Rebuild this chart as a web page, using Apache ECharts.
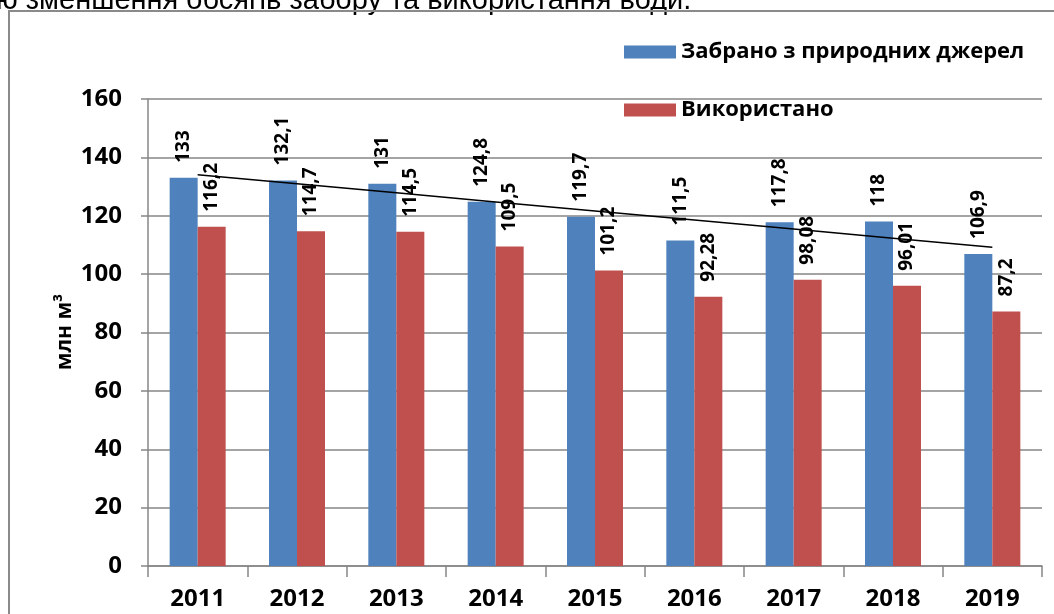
<!DOCTYPE html>
<html>
<head>
<meta charset="utf-8">
<script src="https://cdn.jsdelivr.net/npm/echarts@6/dist/echarts.min.js"></script>
<style>
  html, body { margin: 0; padding: 0; background: #fff; }
  #chart { width: 1054px; height: 614px; }
</style>
</head>
<body>
<div id="chart"></div>
<script>
// дані
const years = ["2011", "2012", "2013", "2014", "2015", "2016", "2017", "2018", "2019"];
const zabrano = [133, 132.1, 131, 124.8, 119.7, 111.5, 117.8, 118, 106.9];
const vykorystano = [116.2, 114.7, 114.5, 109.5, 101.2, 92.28, 98.08, 96.01, 87.2];
const yTicks = [0, 20, 40, 60, 80, 100, 120, 140, 160];

// лінійний тренд по забраній воді
function trend(vals) {
  const n = vals.length;
  const mx = (n + 1) / 2;
  const my = vals.reduce((a, b) => a + b, 0) / n;
  let sxy = 0, sxx = 0;
  vals.forEach((v, i) => {
    sxy += (i + 1 - mx) * (v - my);
    sxx += (i + 1 - mx) * (i + 1 - mx);
  });
  const k = sxy / sxx;
  return vals.map((v, i) => +(my + k * (i + 1 - mx)).toFixed(3));
}

const font = "'Open Sans', 'DejaVu Sans', sans-serif";
const fmt = p => String(p.value).replace(".", ",");

const labelStyle = {
  show: true,
  position: "top",
  distance: 15,
  rotate: 90,
  align: "left",
  verticalAlign: "middle",
  fontFamily: font,
  fontWeight: "bold",
  fontSize: 19,
  color: "#000",
  formatter: fmt
};

const chart = echarts.init(document.getElementById("chart"));
chart.setOption({
  animation: false,
  grid: { left: 148, right: 12, top: 99, bottom: 48 },
  graphic: [
    {
      type: "text",
      left: -4,
      top: -14,
      style: {
        text: "ю зменшення обсягів забору та використання води.",
        font: "29px 'Liberation Sans', Arial, sans-serif",
        fill: "#000"
      }
    },
    {
      type: "rect",
      shape: { x: 9, y: 11, width: 1100, height: 700 },
      style: { fill: "none", stroke: "#8a8a8a", lineWidth: 2 },
      silent: true
    },
    {
      // назва осі Y
      type: "text",
      x: 65,
      y: 332,
      rotation: Math.PI / 2,
      style: {
        text: "млн м³",
        font: "bold 21px 'Open Sans', sans-serif",
        fill: "#000",
        align: "center",
        verticalAlign: "middle"
      }
    }
  ],
  legend: [
    {
      data: ["Забрано з природних джерел"],
      left: 619, top: 36,
      itemWidth: 52, itemHeight: 13,
      icon: "rect",
      textStyle: { fontFamily: font, fontWeight: "bold", fontSize: 22, color: "#000" }
    },
    {
      data: ["Використано"],
      left: 619, top: 94,
      itemWidth: 52, itemHeight: 13,
      icon: "rect",
      textStyle: { fontFamily: font, fontWeight: "bold", fontSize: 22, color: "#000" }
    }
  ],
  xAxis: {
    type: "category",
    data: years,
    boundaryGap: true,
    axisLine: { lineStyle: { color: "#868686", width: 1.5 } },
    axisTick: { show: true, length: 11, lineStyle: { color: "#868686", width: 1.5 } },
    axisLabel: {
      margin: 21,
      fontFamily: font,
      fontWeight: "bold",
      fontSize: 24,
      color: "#000"
    }
  },
  yAxis: {
    type: "value",
    min: yTicks[0],
    max: yTicks[yTicks.length - 1],
    interval: 20,
    axisLine: { show: true, lineStyle: { color: "#868686", width: 1.5 } },
    axisTick: { show: true, length: 7, lineStyle: { color: "#868686", width: 1.5 } },
    splitLine: { lineStyle: { color: "#868686", width: 1.5 } },
    axisLabel: {
      margin: 26,
      fontFamily: font,
      fontWeight: "bold",
      fontSize: 24,
      color: "#000"
    }
  },
  series: [
    {
      name: "Забрано з природних джерел",
      type: "bar",
      data: zabrano,
      barWidth: 28,
      barGap: "0%",
      itemStyle: { color: "#4F81BD" },
      label: labelStyle
    },
    {
      name: "Використано",
      type: "bar",
      data: vykorystano,
      barWidth: 28,
      itemStyle: { color: "#C0504D" },
      label: labelStyle
    },
    {
      name: "trend",
      type: "line",
      data: trend(zabrano),
      symbol: "none",
      lineStyle: { color: "#000", width: 1.5 },
      z: 5,
      silent: true
    }
  ]
});
</script>
</body>
</html>
